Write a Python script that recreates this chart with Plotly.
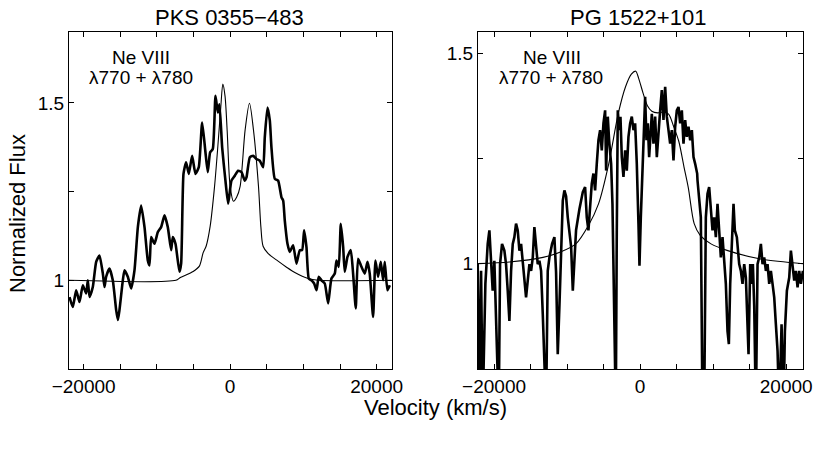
import plotly.graph_objects as go

# ---------------- data: PKS 0355-483 ----------------
left_titles = "PKS 0355−483"
pks_obs_v = [-21930, -21480, -21020, -20570, -20110, -19660, -19430, -19200, -18750, -18290,
             -17840, -17380, -17150, -16930, -16470, -16020, -15560, -15330, -15110, -14650,
             -14420, -13970, -13510, -13060, -12600, -12150, -11690, -11240, -11010, -10780,
             -10330, -9870, -9420, -8960, -8510, -8050, -7830, -7460, -6920, -6690,
             -6370, -6010, -5640, -5190, -4730, -4280, -3820, -3370, -3050, -2730,
             -2370, -2000, -1680, -1460, -1090, -640, -270, 180, 640, 1090,
             1550, 2000, 2230, 2690, 3140, 3600, 4050, 4510, 4730, 5100,
             5420, 5640, 6100, 6550, 7010, 7240, 7460, 7830, 8150, 8600,
             9060, 9510, 9830, 10100, 10420, 10740, 11100, 11470, 11790, 12100,
             12470, 12920, 13380, 13830, 14290, 14520, 14830, 15110, 15430, 15650,
             16020, 16470, 16790, 17150, 17470, 17930, 18380, 18750, 19060, 19520,
             19840, 20200, 20570, 20890, 21110, 21480, 21800]
pks_obs_f = [0.953, 0.925, 0.972, 0.939, 0.986, 0.963, 1.000, 0.953, 0.981, 1.052,
             1.070, 1.019, 0.981, 1.010, 1.033, 1.000, 0.916, 0.888, 0.916, 1.000,
             1.028, 1.010, 0.977, 1.028, 1.150, 1.211, 1.150, 1.056, 1.042, 1.122,
             1.103, 1.136, 1.150, 1.183, 1.150, 1.085, 1.122, 1.103, 1.024, 1.047,
             1.300, 1.333, 1.300, 1.351, 1.300, 1.319, 1.445, 1.361, 1.305, 1.361,
             1.370, 1.520, 1.473, 1.496, 1.375, 1.281, 1.216, 1.281, 1.295, 1.309,
             1.305, 1.281, 1.290, 1.347, 1.351, 1.342, 1.337, 1.319, 1.403, 1.487,
             1.450, 1.375, 1.286, 1.281, 1.234, 1.225, 1.169, 1.103, 1.080, 1.099,
             1.047, 1.085, 1.085, 1.141, 1.094, 1.005, 1.000, 0.991, 0.972, 1.010,
             1.000, 0.991, 0.935, 1.005, 1.019, 1.056, 1.038, 1.159, 1.094, 1.024,
             1.066, 1.085, 1.019, 0.921, 1.061, 1.038, 1.019, 1.052, 1.019, 0.897,
             1.056, 1.010, 1.052, 1.000, 1.052, 0.972, 0.986]
pks_model_v = [-22000, -7400, -6800, -5050, -4200, -3680, -3280, -2730, -2140, -1680,
               -1270, -1000, -700, -400, 0, 455, 900, 1365, 2048, 2640,
               3185, 3870, 4200, 4500, 5200, 6550, 7700, 8830, 10650, 12000, 22000]
pks_model_f = [1.0, 1.0, 1.008, 1.025, 1.04, 1.078, 1.096, 1.152, 1.262, 1.377,
               1.49, 1.553, 1.52, 1.42, 1.265, 1.223, 1.235, 1.265, 1.424, 1.499,
               1.424, 1.265, 1.15, 1.096, 1.075, 1.054, 1.037, 1.022, 1.005, 1.0, 1.0]

# ---------------- data: PG 1522+101 ----------------
right_title = "PG 1522+101"
pg_obs_v = [-22240, -22010, -21780, -21560, -21190, -20870, -20640, -20410, -20190, -19960,
            -19730, -19590, -19360, -19180, -18910, -18590, -18360, -18130, -17900, -17670,
            -17440, -17220, -16990, -16760, -16530, -16300, -16070, -15850, -15620, -15390,
            -15160, -14930, -14700, -14480, -14250, -14020, -13790, -13560, -13330, -13110,
            -12880, -12650, -12420, -12060, -11740, -11510, -11280, -11050, -10820, -10590,
            -10370, -10140, -9910, -9680, -9450, -9220, -9000, -8770, -8310, -7850,
            -7535, -7307, -7078, -6850, -6622, -6393, -6165, -5937, -5708, -5480,
            -5252, -5023, -4795, -4658, -4430, -4247, -3973, -3790, -3653, -3516,
            -3333, -3196, -3059, -2877, -2694, -2511, -2283, -2055, -1826, -1598,
            -1370, -1141, -913, -685, -456, -228, -91, 92, 320, 503,
            686, 868, 1051, 1234, 1416, 1599, 1827, 2056, 2284, 2512,
            2741, 2969, 3197, 3426, 3654, 3883, 4111, 4339, 4568, 4796,
            5024, 5253, 5481, 5709, 5938, 6166, 6394, 6623, 6851, 7079,
            7308, 7536, 7810, 7855, 8083, 8311, 8540, 8768, 8996, 9225,
            9453, 9682, 9910, 10138, 10367, 10595, 10823, 11052, 11280, 11508,
            11737, 11965, 12148, 12330, 12513, 12787, 12970, 13244, 13563, 13792,
            14020, 14249, 14477, 14705, 14842, 15071, 15253, 15436, 15619, 15847,
            16075, 16304, 16532, 16760, 16989, 17217, 17445, 17674, 17902, 18130,
            18359, 18587, 18816, 19044, 19364, 19638, 19820, 20094, 20414, 20642,
            20871, 21099, 21327, 21556, 21784, 22012, 22286]
pg_obs_f = [0.999, 0.65, 0.983, 0.65, 0.952, 1.047, 1.079, 0.999, 0.936, 1.007,
            0.840, 0.65, 0.65, 0.999, 1.047, 1.031, 0.999, 0.936, 0.864, 0.983,
            1.047, 1.063, 1.095, 1.079, 1.031, 1.047, 0.999, 0.952, 0.920, 0.960,
            0.999, 0.983, 1.015, 1.087, 1.031, 0.999, 1.007, 0.983, 0.880, 0.65,
            0.65, 0.983, 1.015, 1.047, 1.063, 0.980, 0.785, 0.900, 1.060, 1.150,
            1.174, 1.160, 1.110, 1.080, 1.040, 0.936, 1.000, 1.080, 1.130, 1.170,
            1.182, 1.110, 1.079, 1.142, 1.190, 1.214, 1.174, 1.237, 1.293, 1.317,
            1.269, 1.333, 1.364, 1.221, 1.349, 1.293, 1.237, 1.142, 0.967, 0.65,
            0.65, 1.079, 1.364, 1.317, 1.349, 1.253, 1.206, 1.269, 1.221, 1.301,
            1.333, 1.349, 1.317, 1.333, 1.237, 1.095, 0.995, 1.110, 1.237, 1.341,
            1.396, 1.293, 1.333, 1.253, 1.301, 1.356, 1.285, 1.349, 1.253, 1.317,
            1.364, 1.412, 1.341, 1.420, 1.349, 1.317, 1.285, 1.317, 1.245, 1.325,
            1.364, 1.372, 1.333, 1.364, 1.285, 1.341, 1.301, 1.325, 1.293, 1.317,
            1.253, 1.237, 1.214, 1.198, 1.158, 1.110, 0.65, 0.65, 1.110, 1.166,
            1.182, 1.134, 1.079, 1.110, 1.063, 1.142, 1.079, 1.015, 1.063, 1.015,
            0.952, 0.840, 0.809, 0.952, 1.047, 1.142, 1.079, 1.063, 0.999, 0.983,
            0.952, 0.999, 0.967, 0.864, 0.785, 0.999, 0.952, 0.999, 0.900, 0.65,
            0.999, 1.015, 1.047, 0.999, 1.015, 0.983, 0.999, 0.952, 0.983, 0.952,
            0.920, 0.856, 0.793, 0.65, 0.856, 0.65, 0.840, 0.936, 0.967, 1.031,
            0.999, 0.960, 0.983, 0.944, 0.983, 0.952, 0.983]
pg_model_v = [-22400, -17900, -13300, -11000, -8800, -7100, -5700, -4300, -3000, -2000,
              -1200, -600, -200, 400, 1000, 1600, 2400, 3200, 3900, 4600,
              5300, 6000, 6600, 7400, 8200, 9700, 12000, 16500, 22300]
pg_model_f = [1.000, 1.004, 1.015, 1.027, 1.047, 1.090, 1.142, 1.237, 1.356, 1.420,
              1.450, 1.457, 1.440, 1.405, 1.375, 1.362, 1.358, 1.360, 1.355, 1.325,
              1.290, 1.230, 1.180, 1.095, 1.068, 1.047, 1.031, 1.011, 1.000]

x_tickvals = [-20000, -15000, -10000, -5000, 0, 5000, 10000, 15000, 20000]
x_ticktext = ["−20000", "", "", "", "0", "", "", "", "20000"]
y_tickvals = [0.75, 1.0, 1.25, 1.5]
y_ticktext = ["", "1", "", "1.5"]
line_label_1 = "Ne VIII"
line_label_2 = "λ770 + λ780"
x_title = "Velocity (km/s)"
y_title = "Normalized Flux"

FONT = "Liberation Sans, Arial, Helvetica, sans-serif"
W, H = 818, 452

fig = go.Figure()
fig.add_trace(go.Scatter(x=pks_model_v, y=pks_model_f, mode="lines", xaxis="x", yaxis="y",
                         line=dict(color="black", width=1.1, shape="spline", smoothing=0.8)))
fig.add_trace(go.Scatter(x=pks_obs_v, y=pks_obs_f, mode="lines", xaxis="x", yaxis="y",
                         line=dict(color="black", width=2.6, shape="spline", smoothing=0.5)))
fig.add_trace(go.Scatter(x=pg_model_v, y=pg_model_f, mode="lines", xaxis="x2", yaxis="y2",
                         line=dict(color="black", width=1.1, shape="spline", smoothing=0.8)))
fig.add_trace(go.Scatter(x=pg_obs_v, y=pg_obs_f, mode="lines", xaxis="x2", yaxis="y2",
                         line=dict(color="black", width=2.6)))

def px_x(p):
    return p / W

def px_y(p):
    return 1 - p / H

axis_common = dict(showline=True, linecolor="black", linewidth=1, mirror="allticks",
                   ticks="inside", ticklen=5, tickcolor="black", tickwidth=1,
                   showgrid=False, zeroline=False, automargin=False,
                   tickfont=dict(family=FONT, size=19, color="black"))

fig.update_layout(
    template="none",
    width=W, height=H, margin=dict(l=0, r=0, t=0, b=0, pad=0), autosize=False,
    paper_bgcolor="white", plot_bgcolor="white", showlegend=False,
    xaxis=dict(domain=[px_x(69), px_x(392)], range=[-22000, 22100], anchor="y",
               tickvals=x_tickvals, ticktext=x_ticktext, **axis_common),
    yaxis=dict(domain=[px_y(369), px_y(32)], range=[0.75, 1.70], anchor="x",
               tickvals=y_tickvals, ticktext=y_ticktext, **axis_common),
    xaxis2=dict(domain=[px_x(478), px_x(803)], range=[-22200, 22300], anchor="y2",
                tickvals=x_tickvals, ticktext=x_ticktext, **axis_common),
    yaxis2=dict(domain=[px_y(369), px_y(32)], range=[0.75, 1.55], anchor="x2",
                tickvals=y_tickvals, ticktext=y_ticktext, **axis_common),
)

def ann(text, x, y, size, angle=0):
    fig.add_annotation(text=text, x=px_x(x), y=px_y(y), xref="paper", yref="paper",
                       showarrow=False, xanchor="center", yanchor="middle", textangle=angle,
                       font=dict(family=FONT, size=size, color="black"))

ann(left_titles, 229, 18, 22)
ann(right_title, 638, 18, 22)
ann(line_label_1, 141, 58, 19)
ann(line_label_2, 141, 78, 19)
ann(line_label_1, 552, 58, 19)
ann(line_label_2, 551, 78, 19)
ann(x_title, 435, 407, 22)
ann(y_title, 18, 214, 22, -90)

fig.write_html("out.html", config={"displayModeBar": False},
               post_script="document.body.style.margin='0';document.body.style.padding='0';"
                           "document.documentElement.style.overflow='hidden';")
